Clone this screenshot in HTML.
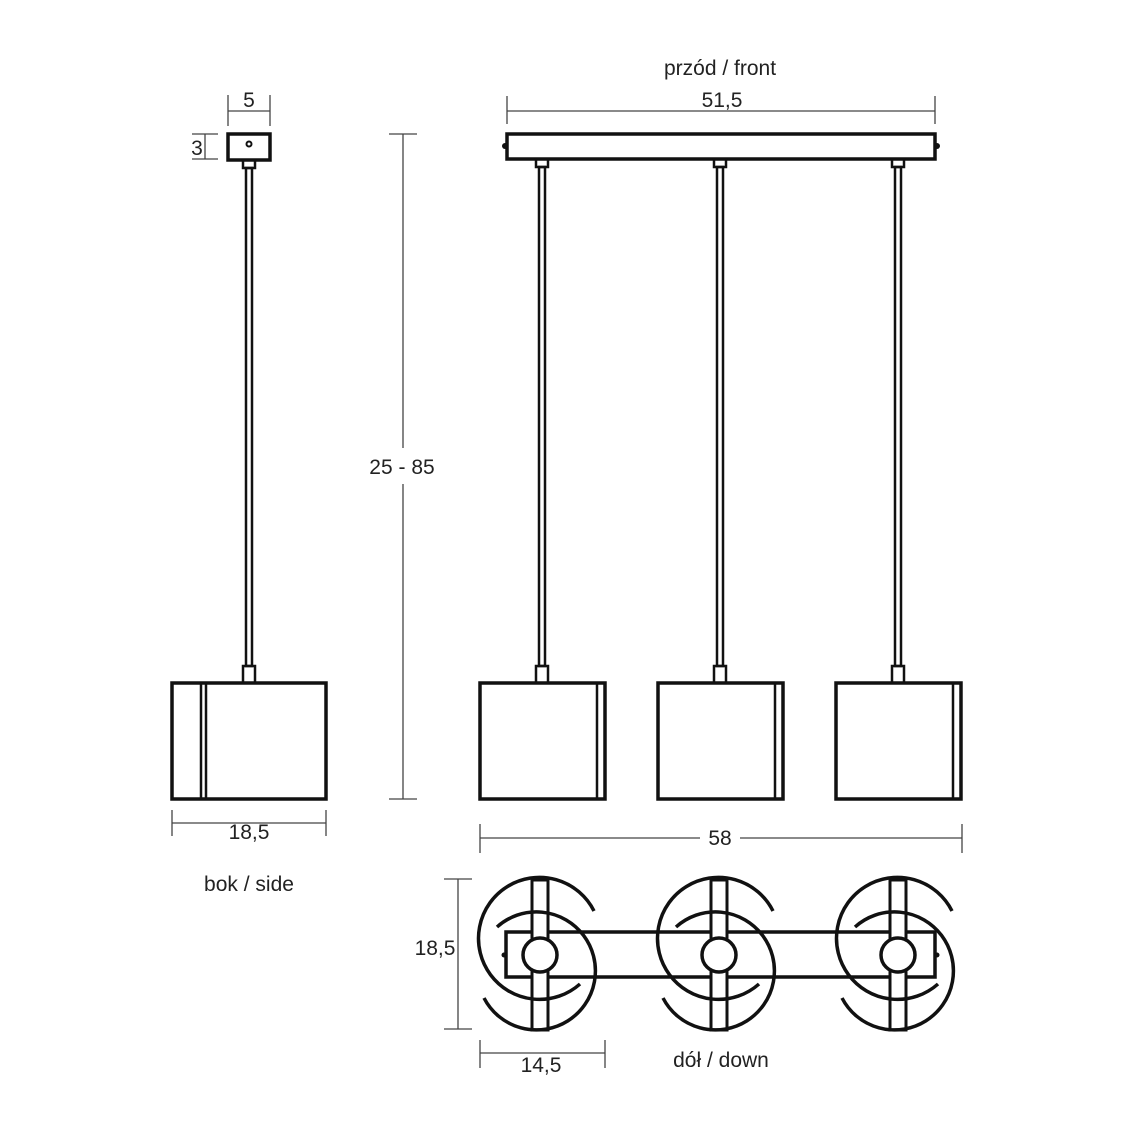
<!DOCTYPE html>
<html><head><meta charset="utf-8"><style>
body{margin:0;background:#fff}
svg{display:block}
text{font-family:"Liberation Sans",sans-serif;font-size:21px;fill:#222;text-anchor:middle}
</style></head><body>
<svg width="1134" height="1134" viewBox="0 0 1134 1134" xmlns="http://www.w3.org/2000/svg">
<rect width="1134" height="1134" fill="#fff"/>
<g stroke="#444" stroke-width="1.3" fill="none">
<line x1="228" y1="95" x2="228" y2="126"/><line x1="270" y1="95" x2="270" y2="126"/><line x1="228" y1="111" x2="270" y2="111"/>
<line x1="192" y1="134" x2="218" y2="134"/><line x1="192" y1="159" x2="218" y2="159"/><line x1="205" y1="134" x2="205" y2="159"/>
<line x1="507" y1="96" x2="507" y2="124"/><line x1="935" y1="96" x2="935" y2="124"/><line x1="507" y1="111" x2="935" y2="111"/>
<line x1="389" y1="134" x2="417" y2="134"/><line x1="389" y1="799" x2="417" y2="799"/><line x1="403" y1="134" x2="403" y2="448"/><line x1="403" y1="484" x2="403" y2="799"/>
<line x1="172" y1="810" x2="172" y2="836"/><line x1="326" y1="810" x2="326" y2="836"/><line x1="172" y1="823" x2="326" y2="823"/>
<line x1="480" y1="824" x2="480" y2="853"/><line x1="962" y1="824" x2="962" y2="853"/><line x1="480" y1="838" x2="700" y2="838"/><line x1="740" y1="838" x2="962" y2="838"/>
<line x1="444" y1="879" x2="472" y2="879"/><line x1="444" y1="1029" x2="472" y2="1029"/><line x1="458" y1="879" x2="458" y2="1029"/>
<line x1="480" y1="1040" x2="480" y2="1068"/><line x1="605" y1="1040" x2="605" y2="1068"/><line x1="480" y1="1053" x2="605" y2="1053"/>
</g>
<text x="249" y="107">5</text>
<text x="197" y="155">3</text>
<text x="720" y="75">przód / front</text>
<text x="722" y="107">51,5</text>
<text x="402" y="474">25 - 85</text>
<text x="249" y="839">18,5</text>
<text x="720" y="845">58</text>
<text x="249" y="891">bok / side</text>
<text x="435" y="955">18,5</text>
<text x="541" y="1072">14,5</text>
<text x="721" y="1067">dół / down</text>

<g stroke="#111" stroke-width="3.5" fill="none">
<rect x="228" y="134" width="42" height="26" fill="#fff"/>
<circle cx="249" cy="144" r="2.5" stroke-width="2"/>
<rect x="243" y="160" width="12" height="8" stroke-width="2.5"/>
<rect x="246" y="168" width="6" height="498" stroke-width="2.5"/>
<rect x="243" y="666" width="12" height="17" stroke-width="2.5"/>
<rect x="172" y="683" width="154" height="116"/>
<line x1="201" y1="683" x2="201" y2="799" stroke-width="2.5"/>
<line x1="206" y1="683" x2="206" y2="799" stroke-width="2.5"/>
<rect x="507" y="134" width="428" height="25"/>
<circle cx="505" cy="146" r="3" fill="#111" stroke="none"/>
<circle cx="937" cy="146" r="3" fill="#111" stroke="none"/>
</g>
<g stroke="#111" stroke-width="3.5" fill="none">
<g id="f1">
<rect x="536" y="159" width="12" height="8" stroke-width="2.5"/>
<rect x="539" y="167" width="6" height="499" stroke-width="2.5"/>
<rect x="536" y="666" width="12" height="17" stroke-width="2.5"/>
<rect x="480" y="683" width="125" height="116"/>
<line x1="597" y1="683" x2="597" y2="799" stroke-width="2.5"/>
</g>
<use href="#f1" x="178"/>
<use href="#f1" x="356"/>
</g>
<g stroke="#111" stroke-width="3.5" fill="none">
<rect x="506" y="932" width="429" height="45"/>
<circle cx="504" cy="955" r="2.5" fill="#111" stroke="none"/>
<circle cx="937" cy="955" r="2.5" fill="#111" stroke="none"/>
<g id="b1">
<rect x="532" y="880" width="16" height="150" fill="#fff" stroke-width="3"/>
<path d="M594 911 A61 61 0 1 0 580 984"/>
<path d="M497 927 A59 59 0 1 1 484 998"/>
<circle cx="540" cy="955" r="17" fill="#fff"/>
</g>
<use href="#b1" x="179"/>
<use href="#b1" x="358"/>
</g>
</svg>
</body></html>
